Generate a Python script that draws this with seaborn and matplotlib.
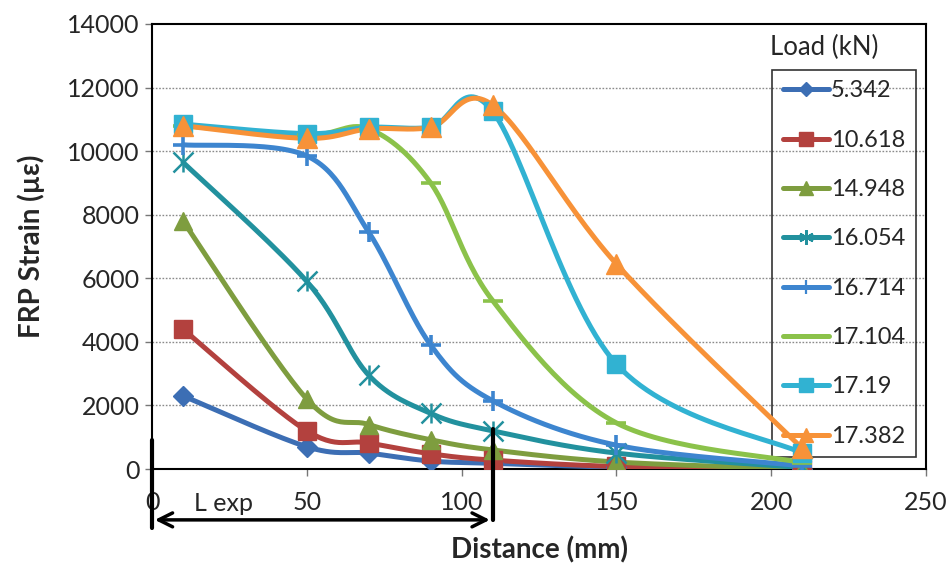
import numpy as np
import pandas as pd
import matplotlib
matplotlib.use('Agg')
import matplotlib.pyplot as plt
import seaborn as sns
from matplotlib.lines import Line2D

# distance along the FRP (mm) and strain readings (micro-strain) per load level
distance = [10, 50, 70, 90, 110, 150, 210]
loads = ['5.342', '10.618', '14.948', '16.054', '16.714', '17.104', '17.19', '17.382']
s_5342 = [2300, 700, 500, 250, 180, 60, 0]
s_10618 = [4400, 1200, 820, 480, 280, 80, 0]
s_14948 = [7800, 2200, 1400, 920, 600, 220, 0]
s_16054 = [9650, 5900, 2950, 1750, 1200, 500, 50]
s_16714 = [10200, 9850, 7450, 3900, 2150, 750, 100]
s_17104 = [10800, 10500, 10700, 9000, 5300, 1450, 200]
s_1719 = [10850, 10550, 10750, 10750, 11250, 3300, 500]
s_17382 = [10800, 10400, 10700, 10750, 11450, 6450, 650]
strains = [s_5342, s_10618, s_14948, s_16054, s_16714, s_17104, s_1719, s_17382]

colors = ['#3C6EB4', '#B3413E', '#7E9D3F', '#22919E', '#3D85CF', '#8BC24A', '#31B2D2', '#F79238']
markers = ['D', 's', '^', 'x', '+', '_', 's', '^']
msizes = [10, 13, 13, 14, 14, 14, 13, 14]


# Excel style smoothed line (Catmull-Rom through the measured points)
def smooth(x, y, n=30):
    x = np.asarray(x, float)
    y = np.asarray(y, float)
    px = np.concatenate([[x[0]], x, [x[-1]]])
    py = np.concatenate([[y[0]], y, [y[-1]]])
    xs, ys = [], []
    t = np.linspace(0, 1, n)
    for i in range(1, len(px) - 2):
        p0, p1, p2, p3 = (np.array([px[k], py[k]]) for k in (i - 1, i, i + 1, i + 2))
        c1 = p1 + (p2 - p0) / 6
        c2 = p2 - (p3 - p1) / 6
        b = ((1 - t) ** 3)[:, None] * p1 + (3 * (1 - t) ** 2 * t)[:, None] * c1 \
            + (3 * (1 - t) * t ** 2)[:, None] * c2 + (t ** 3)[:, None] * p2
        xs.extend(b[:, 0])
        ys.extend(b[:, 1])
    return np.array(xs), np.array(ys)


sns.set_style('white')
plt.rcParams['font.family'] = ['Lato', 'DejaVu Sans']

fig = plt.figure(figsize=(9.52, 5.71), dpi=100)
ax = fig.add_axes([0.1597, 0.1786, 0.8130, 0.7794])

for load, vals, c, m, ms in zip(loads, strains, colors, markers, msizes):
    sx, sy = smooth(distance, vals)
    sns.lineplot(x=sx, y=sy, sort=False, color=c, linewidth=3.6, ax=ax, zorder=3)
    if load == '16.054':
        ax.plot(distance, vals, linestyle='none', marker='x', ms=ms, mew=1.8, color=c, zorder=4)
        ax.plot(distance, vals, linestyle='none', marker='|', ms=ms, mew=1.8, color=c, zorder=4)
    elif m in ('+', '_'):
        ax.plot(distance, vals, linestyle='none', marker=m, ms=ms, mew=2.6, color=c, zorder=4)
    else:
        ax.plot(distance, vals, linestyle='none', marker=m, ms=ms, color=c, mec=c, zorder=4)

ax.set_xlim(0, 250)
ax.set_ylim(0, 14000)
ax.set_xticks([0, 50, 100, 150, 200, 250])
ax.set_yticks(range(0, 14001, 2000))
ax.set_yticklabels([str(v) for v in range(0, 14001, 2000)])
ax.tick_params(axis='both', labelsize=18, direction='out', length=5, width=1, color='#777777',
               bottom=True, left=True, pad=4)
ax.tick_params(axis='x', pad=11)
for yv in range(2000, 14000, 2000):
    ax.axhline(yv, color='#8a8a8a', linestyle=(0, (1.2, 1.2)), linewidth=1.0, zorder=1)
for sp in ax.spines.values():
    sp.set_color('black')
    sp.set_linewidth(1.5)

ax.set_xlabel('Distance (mm)', fontsize=20, fontweight='bold', labelpad=16)
ax.set_ylabel('FRP Strain (\u00b5\u03b5)', fontsize=20, fontweight='bold', labelpad=16)

# legend (transparent box, lines pass over it like in the original)
handles = []
for load, c, m, ms in zip(loads, colors, markers, msizes):
    if load == '16.054':
        m = (6, 2, 0)
    handles.append(Line2D([0], [0], color=c, linewidth=3.6, marker=m, ms=ms * 0.75,
                          mew=1.6 if m in ('+', '_') or load == '16.054' else 1, mec=c))
leg = ax.legend(handles, loads, loc='upper right', bbox_to_anchor=(0.987, 0.897),
                borderaxespad=0, fontsize=17, frameon=True, fancybox=False,
                labelspacing=1.2, handlelength=1.95, handletextpad=0.1,
                borderpad=0.45)
leg.get_frame().set_edgecolor('black')
leg.get_frame().set_linewidth(1.2)
leg.get_frame().set_facecolor('none')
leg.set_zorder(2)
ax.text(0.868, 0.948, 'Load (kN)', transform=ax.transAxes, fontsize=18.5,
        ha='center', va='center')

# L exp annotation below the axis
ax.plot([0, 0], [900, -1850], color='black', linewidth=3, clip_on=False, zorder=5)
ax.plot([110, 110], [1250, -1600], color='black', linewidth=3, clip_on=False, zorder=5)
ax.annotate('', xy=(0, -1600), xytext=(110, -1600), annotation_clip=False,
            arrowprops=dict(arrowstyle='<->', color='black', lw=2.5, mutation_scale=25))
ax.text(23, -1100, 'L exp', fontsize=18, ha='center', va='center')

fig.savefig('out.png', dpi=100)
